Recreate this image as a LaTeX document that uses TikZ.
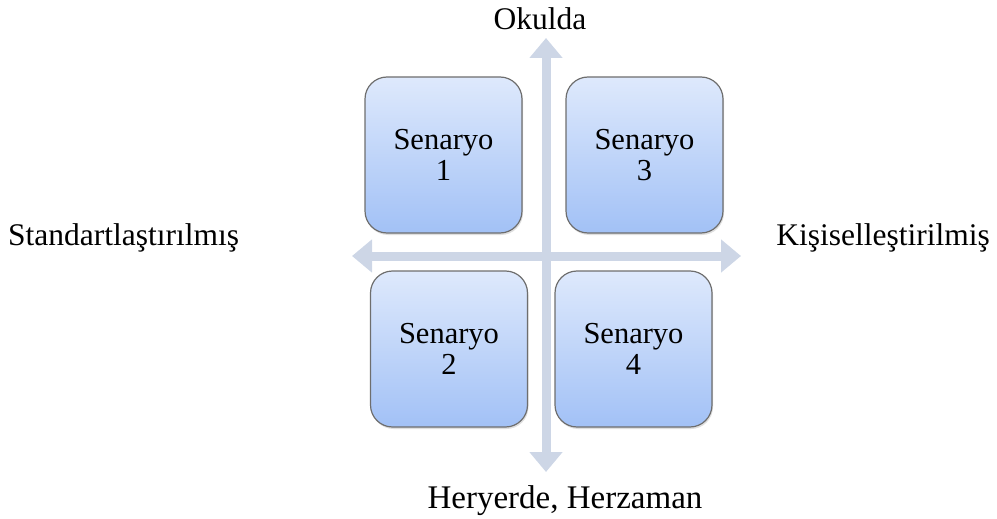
\documentclass[tikz,border=0pt]{standalone}
\usepackage{fontspec}
\setmainfont{Liberation Serif}
\usetikzlibrary{arrows.meta,shadows}

\definecolor{axisblue}{HTML}{CDD6E6}
\definecolor{boxtop}{HTML}{DEE9FC}
\definecolor{boxbottom}{HTML}{A2C1F6}
\definecolor{boxline}{HTML}{6E6E6E}

\tikzset{
  scenario/.style={draw=boxline, line width=1.2pt, rounded corners=22pt,
    top color=boxtop, bottom color=boxbottom,
    drop shadow={shadow xshift=1pt, shadow yshift=-2pt, opacity=0.25},
    minimum width=157pt, minimum height=156pt, align=center,
    font=\fontsize{30.5}{31}\selectfont},
  axislabel/.style={font=\fontsize{31.5}{36}\selectfont, inner sep=0pt},
  axisarrow/.style={draw=axisblue, line width=9pt,
    {Triangle[width=32pt,length=20pt,fill=axisblue]}-{Triangle[width=32pt,length=20pt,fill=axisblue]}}
}

\begin{document}
\begin{tikzpicture}[x=1pt, y=-1pt]
  \useasboundingbox (0,0) rectangle (997,519);

  % axis ends
  \coordinate (top) at (546,38);
  \coordinate (bottom) at (546,472);
  \coordinate (left) at (352,256);
  \coordinate (right) at (741,256);

  \draw[axisarrow] (bottom) -- (top);
  \draw[axisarrow] (left) -- (right);

  % scenarios
  \node[scenario] (s1) at (443.5,155) {Senaryo\\1};
  \node[scenario] (s3) at (644.5,155) {Senaryo\\3};
  \node[scenario] (s2) at (449,349) {Senaryo\\2};
  \node[scenario] (s4) at (633.5,349) {Senaryo\\4};

  % axis labels
  \node[axislabel, anchor=base] (school) at (540,30) {Okulda};
  \node[axislabel, anchor=base, font=\fontsize{33}{36}\selectfont] (anywhere) at (565,508) {Heryerde, Herzaman};
  \node[axislabel, anchor=base west] (standard) at (8,245) {Standartlaştırılmış};
  \node[axislabel, anchor=base east] (personal) at (990,245) {Kişiselleştirilmiş};
\end{tikzpicture}
\end{document}
